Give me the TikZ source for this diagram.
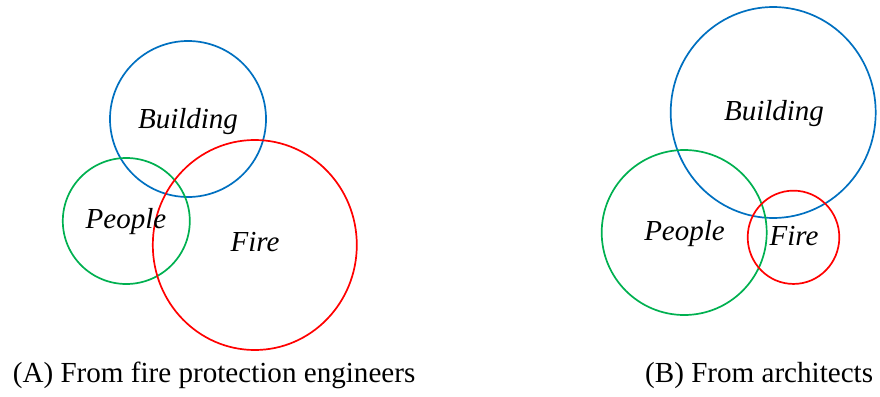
\documentclass[tikz,border=0pt]{standalone}
\usepackage{fontspec}
\setmainfont{Liberation Serif}
\usetikzlibrary{shapes.geometric}
\definecolor{cblue}{RGB}{0,112,192}
\definecolor{cgreen}{RGB}{0,176,80}
\definecolor{cred}{RGB}{255,0,0}
\tikzset{
  ring/.style={draw, ellipse, line width=1.7pt, inner sep=0pt, fill=none},
  lbl/.style={anchor=base, inner sep=0pt, font=\fontsize{29}{33}\selectfont\itshape},
  captext/.style={inner sep=0pt, font=\fontsize{29.1}{33}\selectfont}
}
\begin{document}
\begin{tikzpicture}[x=1pt,y=-1pt]
\useasboundingbox (0,0) rectangle (880,396);
% (A)
\node[ring, cblue, minimum width=156pt, minimum height=156pt] (bA) at (188,119) {};
\node[ring, cgreen, minimum width=127pt, minimum height=126pt] (pA) at (126.3,221) {};
\node[ring, cred, minimum width=204pt, minimum height=210pt] (fA) at (254.8,245) {};
\node[lbl] (tbA) at (188,128.3) {Building};
\node[lbl] (tpA) at (126,228) {People};
\node[lbl] (tfA) at (255,251.7) {Fire};
% (B)
\node[ring, cblue, minimum width=205pt, minimum height=211pt] (bB) at (773.2,112.5) {};
\node[ring, cgreen, minimum width=165pt, minimum height=165pt] (pB) at (684.2,232.5) {};
\node[ring, cred, minimum width=91.6pt, minimum height=93.3pt] (fB) at (793.5,237.3) {};
\node[lbl] (tbB) at (774,120.7) {Building};
\node[lbl] (tpB) at (684.5,240.7) {People};
\node[lbl] (tfB) at (794,245) {Fire};
% captions
\node[captext, anchor=base west] (capA) at (12.7,382.3) {(A) From fire protection engineers};
\node[captext, anchor=base east] (capB) at (873.3,382.3) {(B) From architects};
\end{tikzpicture}
\end{document}
